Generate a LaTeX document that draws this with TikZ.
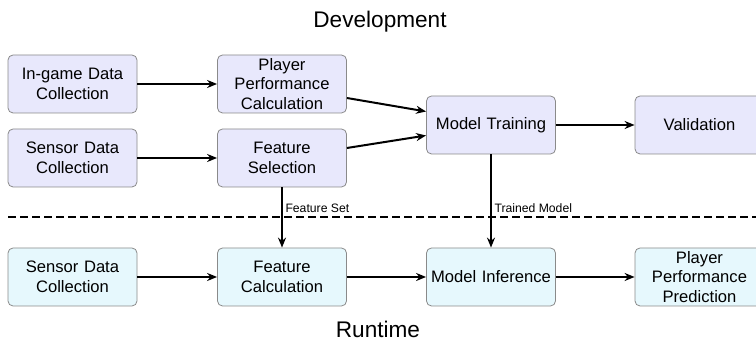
\documentclass[tikz,border=0pt]{standalone}
\usepackage{fontspec}
\setmainfont{Liberation Sans}
\usetikzlibrary{arrows.meta}
\definecolor{devfill}{HTML}{E8E8FC}
\definecolor{runfill}{HTML}{E6F8FD}
\definecolor{boxline}{HTML}{8A8A8A}
\begin{document}
\begin{tikzpicture}[x=1pt,y=1pt,line join=round,>={Stealth[length=10pt,width=8pt]},
	box/.style={draw=boxline,line width=0.8pt,rounded corners=5pt,minimum width=129pt,minimum height=58pt,
		text width=120pt,align=center,font=\fontsize{16.6}{19.5}\selectfont},
	devbox/.style={box,fill=devfill},
	runbox/.style={box,fill=runfill},
	flow/.style={->,line width=2pt},
	tag/.style={font=\fontsize{12.2}{14}\selectfont,anchor=south west,inner sep=1pt},
	title/.style={font=\fontsize{22.6}{26}\selectfont}]
	\useasboundingbox (0,0) rectangle (756,347);
	%%Tiêu đề
	\node[title] (dev) at (380,325) {Development};
	\node[title] (run) at (378,18) {Runtime};
	%%Phát triển
	\node[devbox] (igc) at (72.5,263) {In-game Data\\Collection};
	\node[devbox] (ppc) at (282,263) {Player\\Performance\\Calculation};
	\node[devbox] (sdc) at (72.5,189) {Sensor Data\\Collection};
	\node[devbox] (fs) at (282,189) {Feature\\Selection};
	\node[devbox] (mt) at (491,222) {Model Training};
	\node[devbox] (val) at (699.5,222) {Validation};
	%%Vận hành
	\node[runbox] (rsdc) at (72.5,70) {Sensor Data\\Collection};
	\node[runbox] (fc) at (282,70) {Feature\\Calculation};
	\node[runbox] (mi) at (491,70) {Model Inference};
	\node[runbox] (ppp) at (699.5,70) {Player\\Performance\\Prediction};
	%%Đường phân cách
	\coordinate (L) at (8,130);
	\coordinate (R) at (760,130);
	\draw[line width=1.2pt,dash pattern=on 8pt off 4pt] (L)--(R);
	%%Mũi tên
	\draw[flow] (igc)--(ppc);
	\draw[flow] (sdc)--(fs);
	\draw[flow] ([yshift=-14pt]ppc.east)--([yshift=13.5pt]mt.west);
	\draw[flow] ([yshift=10pt]fs.east)--([yshift=-10.5pt]mt.west);
	\draw[flow] (mt)--(val);
	\draw[flow] (rsdc)--(fc);
	\draw[flow] (fc)--(mi);
	\draw[flow] (mi)--(ppp);
	\draw[flow] (fs)--(fc) node[tag] at (283.5,132) {Feature Set};
	\draw[flow] (mt)--(mi) node[tag] at (492.5,132) {Trained Model};
\end{tikzpicture}
\end{document}
